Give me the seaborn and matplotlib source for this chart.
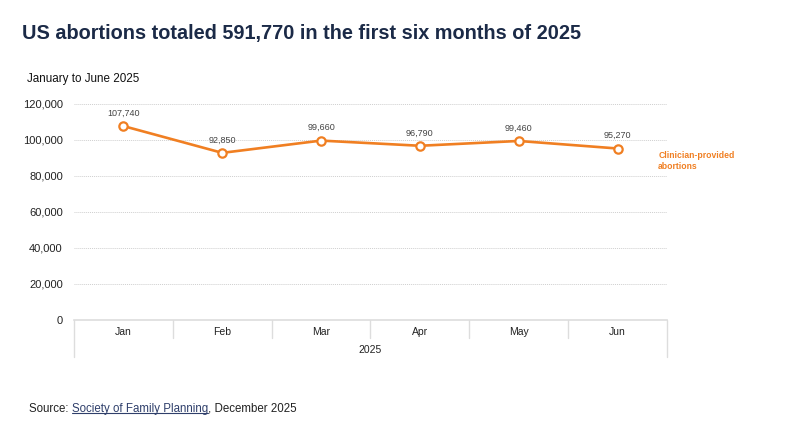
import matplotlib
matplotlib.use("Agg")
import matplotlib.pyplot as plt
import seaborn as sns
import pandas as pd

months = ["Jan", "Feb", "Mar", "Apr", "May", "Jun"]
abortions = [107740, 92850, 99660, 96790, 99460, 95270]
y_ticks = [0, 20000, 40000, 60000, 80000, 100000, 120000]

ORANGE = "#f07f22"
NAVY = "#1b2a47"
GRID = "#cfcfcf"

sns.set_style("white")
plt.rcParams["font.family"] = ["Liberation Sans", "DejaVu Sans"]

df = pd.DataFrame({"month": months, "abortions": abortions})
df["pos"] = range(len(df))

fig = plt.figure(figsize=(7.92, 4.41), dpi=100)
ax = fig.add_axes([0.0934, 0.2744, 0.7488, 0.4898])

sns.lineplot(
    data=df, x="pos", y="abortions", color=ORANGE, linewidth=1.9,
    marker="o", markersize=6, markerfacecolor="white",
    markeredgecolor=ORANGE, markeredgewidth=1.6, ax=ax,
)

for x, y in zip(df["pos"], df["abortions"]):
    ax.annotate(f"{y:,}", (x, y), xytext=(0, 6), textcoords="offset points",
                ha="center", va="bottom", fontsize=6.5, color="#444444")

ax.set_xlim(-0.5, len(months) - 0.5)
ax.set_ylim(0, 120000)
ax.set_yticks(y_ticks)
ax.set_yticklabels([f"{v:,}" for v in y_ticks], fontsize=8, color="#222222")
ax.set_xticks([])
ax.set_xlabel("")
ax.set_ylabel("")
for v in y_ticks[1:]:
    ax.axhline(v, color=GRID, linewidth=0.7, linestyle=(0, (1, 1)), zorder=0)
for s in ["top", "right", "left"]:
    ax.spines[s].set_visible(False)
ax.spines["bottom"].set_color("#dddddd")
ax.spines["bottom"].set_linewidth(1.2)
ax.tick_params(axis="y", length=0, pad=8)

# month labels and band dividers below the axis
trans = ax.get_xaxis_transform()
for i, m in enumerate(months):
    ax.text(i, -0.055, m, transform=trans, ha="center", va="center",
            fontsize=7.5, color="#222222")
for b in range(len(months) + 1):
    edge = b in (0, len(months))
    ax.plot([b - 0.5, b - 0.5], [0, -0.17 if edge else -0.085],
            transform=trans, color="#dddddd", linewidth=1, clip_on=False)
ax.text((len(months) - 1) / 2, -0.14, "2025", transform=trans,
        ha="center", va="center", fontsize=7.5, color="#222222")

ax.text(len(months) - 0.59, abortions[-1] - 1500, "Clinician-provided\nabortions",
        transform=ax.transData, ha="left", va="top", fontsize=6.2,
        fontweight="bold", color=ORANGE, linespacing=1.3)

fig.text(0.028, 0.925, "US abortions totaled 591,770 in the first six months of 2025",
         fontsize=14.3, fontweight="bold", color=NAVY, ha="left", va="center")
fig.text(0.034, 0.82, "January to June 2025", fontsize=8.4, color="#111111",
         ha="left", va="center")

src = fig.text(0.037, 0.073, "Source: ", fontsize=8.3, color="#222222",
               ha="left", va="center")
fig.canvas.draw()
r = fig.canvas.get_renderer()
bb = src.get_window_extent(r)
link = fig.text(bb.x1 / fig.bbox.width, 0.073, "Society of Family Planning",
                fontsize=8.3, color="#2f3f6b", ha="left", va="center")
bb2 = link.get_window_extent(r)
fig.add_artist(plt.Line2D([bb2.x0 / fig.bbox.width, bb2.x1 / fig.bbox.width],
                          [bb2.y0 / fig.bbox.height + 0.004] * 2,
                          color="#2f3f6b", linewidth=0.8))
fig.text(bb2.x1 / fig.bbox.width, 0.073, ", December 2025", fontsize=8.3,
         color="#222222", ha="left", va="center")

fig.savefig("out.png", dpi=100)
